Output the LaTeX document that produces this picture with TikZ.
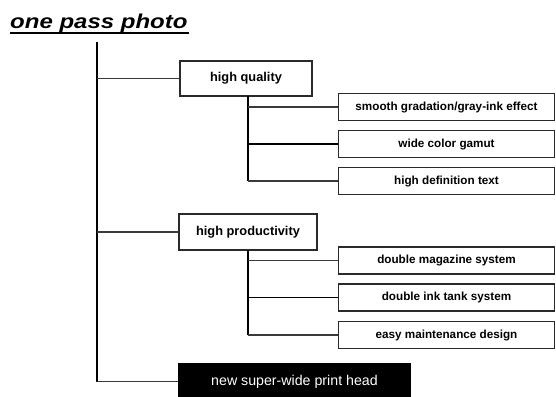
\documentclass[tikz,border=0pt]{standalone}
\usepackage{fontspec}
\setmainfont{Liberation Sans}
\definecolor{boxline}{HTML}{2A2A2A}
\definecolor{thinline}{HTML}{3A3A3A}
\tikzset{
  bigbox/.style={draw=boxline, line width=1.6pt, fill=white, rectangle, inner sep=0pt,
    font=\fontsize{12.8}{14}\selectfont\bfseries},
  smallbox/.style={draw=boxline, line width=1.6pt, fill=white, rectangle, inner sep=0pt,
    minimum width=216pt, minimum height=27pt, font=\fontsize{11.7}{13}\selectfont\bfseries},
  headbox/.style={fill=black, text=white, rectangle, inner sep=0pt,
    minimum width=233pt, minimum height=37pt, font=\fontsize{14.2}{16}\selectfont},
  trunk/.style={draw=black, line width=2pt},
  branch/.style={draw=thinline, line width=1.4pt},
  strongbranch/.style={draw=black, line width=1.9pt}
}
\begin{document}
\begin{tikzpicture}[x=1pt,y=-1pt]
\useasboundingbox (0,0) rectangle (556,396);
% title
\node[anchor=base west, inner sep=0pt, font=\fontsize{20}{24}\selectfont\bfseries\itshape] (title) at (10,29) {\scalebox{1.2}[1]{one pass photo}};
\coordinate (ulA) at (10,33);
\coordinate (ulB) at (189,33);
\draw[line width=1.6pt] (ulA) -- (ulB);
% boxes
\node[bigbox, minimum width=132pt, minimum height=35pt] (hq) at (246,78.5) {high quality};
\node[bigbox, minimum width=138pt, minimum height=36pt] (hp) at (248,232) {high productivity};
\node[smallbox] (s1) at (446.5,107) {smooth gradation/gray-ink effect};
\node[smallbox] (s2) at (446.5,144) {wide color gamut};
\node[smallbox] (s3) at (446.5,181) {high definition text};
\node[smallbox] (s4) at (446.5,260.5) {double magazine system};
\node[smallbox] (s5) at (446.5,297.5) {double ink tank system};
\node[smallbox] (s6) at (446.5,335) {easy maintenance design};
\node[headbox] (head) at (294.5,381.5) {\raisebox{-1.5pt}{new super-wide print head}};
% trunk
\coordinate (top) at (97,42);
\coordinate (bot) at (97,381.5);
\draw[trunk] (top) -- (bot);
\draw[branch] (top |- hq.west) -- (hq.west);
\draw[branch] (top |- hp.west) -- (hp.west);
\draw[branch] (bot) -- (head.west);
% high quality subtree
\coordinate (qa) at (248,96);
\draw[trunk] (qa) -- (qa |- s3.west);
\draw[branch] (qa |- s1.west) -- (s1.west);
\draw[strongbranch] (qa |- s2.west) -- (s2.west);
\draw[branch] (qa |- s3.west) -- (s3.west);
% high productivity subtree
\coordinate (pa) at (248,250);
\draw[trunk] (pa) -- (pa |- s6.west);
\draw[branch] (pa |- s4.west) -- (s4.west);
\draw[strongbranch] (pa |- s5.west) -- (s5.west);
\draw[branch] (pa |- s6.west) -- (s6.west);
\end{tikzpicture}
\end{document}
